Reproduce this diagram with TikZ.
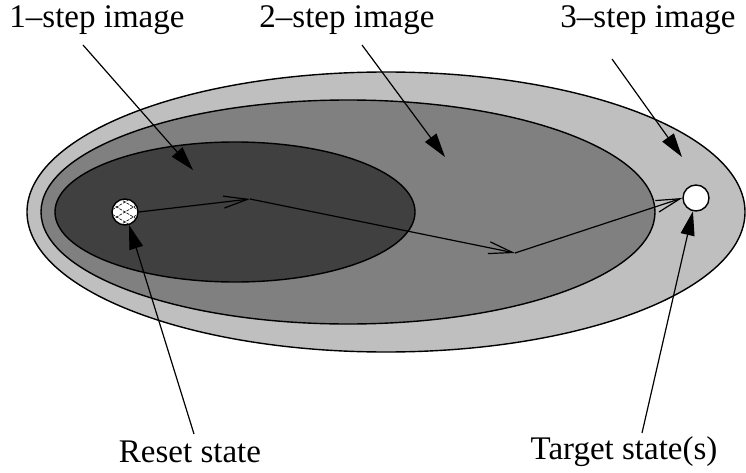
\documentclass[tikz,border=0pt]{standalone}
\usepackage{fontspec}
\setmainfont{Liberation Serif}
\usetikzlibrary{arrows.meta}
\definecolor{imgA}{gray}{0.25}
\definecolor{imgB}{gray}{0.5}
\definecolor{imgC}{gray}{0.75}
\tikzset{
  region/.style={draw=black, line width=1.4pt},
  label/.style={font=\fontsize{33}{38}\selectfont, inner sep=0pt},
  pointer/.style={line width=1.2pt, -{Triangle[length=24pt,width=14pt]}},
  trace/.style={line width=1.2pt, -{Straight Barb[length=24pt,width=12pt]}},
  state/.style={circle, draw=black, fill=white, line width=1.4pt, minimum size=26pt, inner sep=0pt},
  hatch/.style={line width=0.6pt, dash pattern=on 3pt off 1.2pt}
}
\begin{document}
\begin{tikzpicture}[x=1pt, y=-1pt]
\useasboundingbox (0,0) rectangle (746,473);
% nested reachable sets
\draw[region, fill=imgC] (386,212) ellipse [x radius=359, y radius=140];
\draw[region, fill=imgB] (348,212) ellipse [x radius=307, y radius=112];
\draw[region, fill=imgA] (235,212) ellipse [x radius=180, y radius=70];
% states
\node[state] (reset) at (125,212) {};
\begin{scope}
  \clip (125,212) circle (12.3pt);
  \foreach \c in {-30,-20,...,30} {
    \draw[hatch] (105,212+\c-12) -- (145,212+\c+12);
    \draw[hatch] (105,212+\c+12) -- (145,212+\c-12);
  }
\end{scope}
\node[state] (target) at (696,198) {};
% trace from reset to target
\coordinate (p1) at (250,199);
\coordinate (p2) at (515,253);
\draw[trace] (reset.east) -- (p1);
\draw[trace] (p1) -- (p2);
\draw[trace] (p2) -- (target.west);
% labels
\node[label] (l1) at (97,20) {1–step image};
\node[label] (l2) at (347,20) {2–step image};
\node[label] (l3) at (648,20) {3–step image};
\node[label] (lr) at (190,452) {Reset state};
\node[label] (lt) at (624,452) {Target state(s)};
\coordinate (s1) at (83,45);
\coordinate (s2) at (362,45);
\coordinate (s3) at (612,59);
\coordinate (sr) at (194,434);
\coordinate (st) at (642,433);
\coordinate (t1) at (193,170);
\coordinate (t2) at (445,157);
\coordinate (t3) at (682,157);
\draw[pointer] (s1) -- (t1);
\draw[pointer] (s2) -- (t2);
\draw[pointer] (s3) -- (t3);
\draw[pointer] (sr) -- (reset);
\draw[pointer] (st) -- (target);
\end{tikzpicture}
\end{document}
